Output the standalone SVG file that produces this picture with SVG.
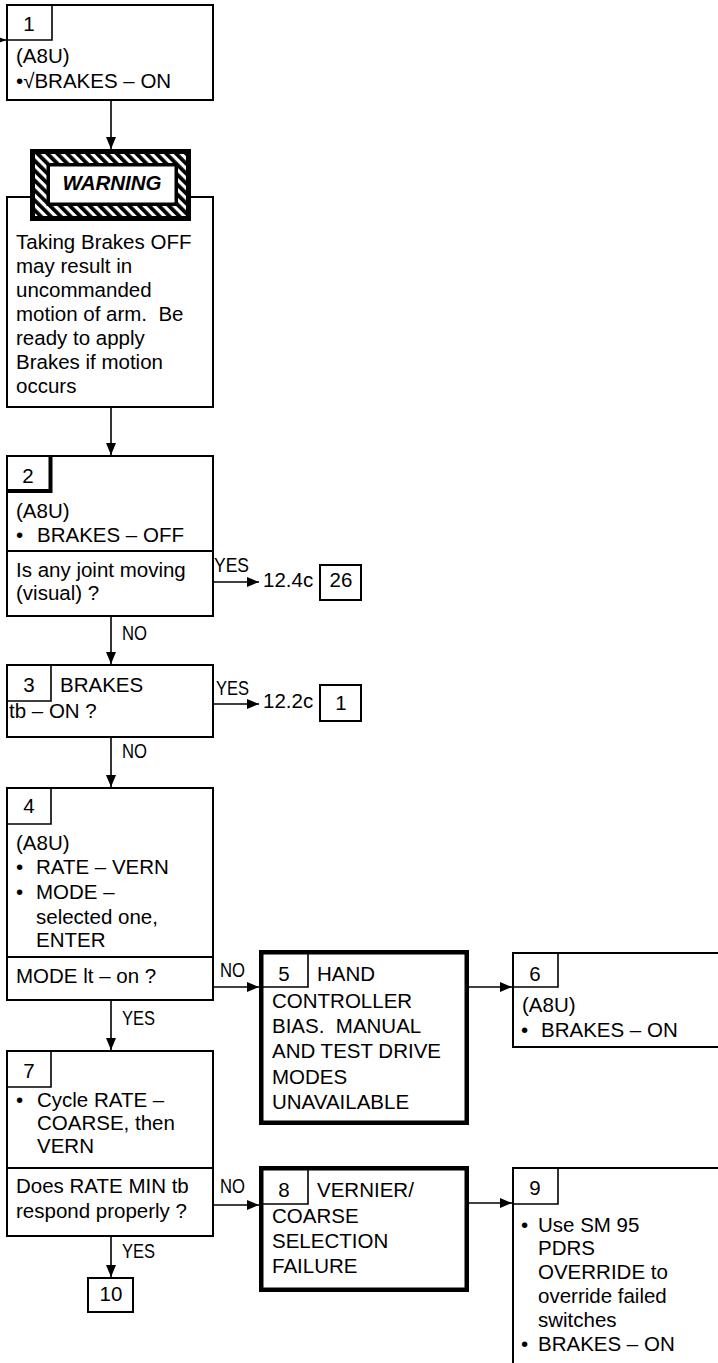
<svg xmlns="http://www.w3.org/2000/svg" width="718" height="1363" viewBox="0 0 718 1363">
<style>
text{font-family:"Liberation Sans",Arial,sans-serif;font-size:20.5px;fill:#000}
.c{text-anchor:middle}
.lbl{font-size:21px}
.box{fill:#fff;stroke:#000;stroke-width:2}
.thick{fill:#fff;stroke:#000;stroke-width:4.5}
.tab{fill:none;stroke:#000;stroke-width:1.6}
.tabb{fill:none;stroke:#000;stroke-width:4}
.div{stroke:#000;stroke-width:2}
.conn{fill:none;stroke:#000;stroke-width:1.6;marker-end:url(#ah)}
</style>
<defs>
<marker id="ah" markerUnits="userSpaceOnUse" markerWidth="12" markerHeight="10" refX="12" refY="5" orient="auto">
<path d="M0,0 L12,5 L0,10 z" fill="#000"/>
</marker>
<pattern id="hatch" patternUnits="userSpaceOnUse" width="7" height="7" patternTransform="rotate(-45)">
<rect width="7" height="7" fill="#fff"/>
<rect width="3.8" height="7" fill="#000"/>
</pattern>
</defs>
<rect width="718" height="1363" fill="#fff"/>

<g id="connectors">
<path class="conn" d="M-10,40 H6"/>
<path class="conn" d="M111,101 V149"/>
<path class="conn" d="M111,408 V455"/>
<path class="conn" d="M214,582 H259"/>
<path class="conn" d="M111,617 V664"/>
<path class="conn" d="M214,704 H259"/>
<path class="conn" d="M111,737 V787"/>
<path class="conn" d="M214,987 H259"/>
<path class="conn" d="M469,987 H512"/>
<path class="conn" d="M111,1001 V1050"/>
<path class="conn" d="M214,1205 H259"/>
<path class="conn" d="M469,1203 H512"/>
<path class="conn" d="M111,1237 V1277"/>
<text class="lbl" x="214" y="572" textLength="35" lengthAdjust="spacingAndGlyphs">YES</text>
<text class="lbl" x="216" y="695" textLength="33" lengthAdjust="spacingAndGlyphs">YES</text>
<text class="lbl" x="122" y="640" textLength="25" lengthAdjust="spacingAndGlyphs">NO</text>
<text class="lbl" x="122" y="758" textLength="25" lengthAdjust="spacingAndGlyphs">NO</text>
<text class="lbl" x="220" y="977" textLength="25" lengthAdjust="spacingAndGlyphs">NO</text>
<text class="lbl" x="122" y="1025" textLength="33" lengthAdjust="spacingAndGlyphs">YES</text>
<text class="lbl" x="220" y="1193" textLength="25" lengthAdjust="spacingAndGlyphs">NO</text>
<text class="lbl" x="122" y="1258" textLength="33" lengthAdjust="spacingAndGlyphs">YES</text>
</g>

<g id="box1">
<rect class="box" x="7" y="5" width="206" height="95"/>
<path class="tab" d="M52,5 V40 H7"/>
<text class="c" x="29" y="31">1</text>
<text x="16" y="63">(A8U)</text>
<text x="16" y="88">•√BRAKES – ON</text>
</g>

<g id="warning-box">
<rect class="box" x="7" y="197" width="206" height="210"/>
<text x="16" y="249">Taking Brakes OFF</text>
<text x="16" y="273">may result in</text>
<text x="16" y="297">uncommanded</text>
<text x="16" y="321" xml:space="preserve">motion of arm.  Be</text>
<text x="16" y="345">ready to apply</text>
<text x="16" y="369">Brakes if motion</text>
<text x="16" y="393">occurs</text>
</g>

<g id="warning-badge">
<rect x="30" y="149" width="161" height="72" fill="#000"/>
<rect x="35" y="154" width="151" height="62" fill="url(#hatch)"/>
<rect x="46.5" y="163" width="131.5" height="43" fill="#000"/>
<rect x="50" y="166.5" width="124.5" height="36" fill="#fff"/>
<text class="c" x="112" y="190" font-weight="bold" font-style="italic">WARNING</text>
</g>

<g id="box2">
<rect class="box" x="7" y="456" width="206" height="160"/>
<path class="tabb" d="M50.5,456 V491 H7"/>
<text class="c" x="28" y="483">2</text>
<text x="16" y="518">(A8U)</text>
<text x="16" y="542">•</text><text x="37" y="542">BRAKES – OFF</text>
<line class="div" x1="7" y1="551" x2="213" y2="551"/>
<text x="16" y="577">Is any joint moving</text>
<text x="16" y="600">(visual) ?</text>
</g>

<g id="ref-26">
<text x="263" y="587">12.4c</text>
<rect class="box" x="320" y="565" width="41" height="35"/>
<text class="c" x="341" y="587">26</text>
</g>

<g id="box3">
<rect class="box" x="7" y="665" width="206" height="72"/>
<path class="tab" d="M51,665 V701 H7"/>
<text class="c" x="29" y="692">3</text>
<text x="60" y="692">BRAKES</text>
<text x="9" y="718">tb – ON ?</text>
</g>

<g id="ref-1">
<text x="263" y="708">12.2c</text>
<rect class="box" x="320" y="685" width="41" height="36"/>
<text class="c" x="341" y="710">1</text>
</g>

<g id="box4">
<rect class="box" x="7" y="788" width="206" height="212"/>
<path class="tab" d="M51,788 V824 H7"/>
<text class="c" x="29" y="813">4</text>
<text x="16" y="850">(A8U)</text>
<text x="16" y="874">•</text><text x="36" y="874">RATE – VERN</text>
<text x="16" y="899">•</text><text x="36" y="899">MODE –</text>
<text x="36" y="924">selected one,</text>
<text x="36" y="947">ENTER</text>
<line class="div" x1="7" y1="957" x2="213" y2="957"/>
<text x="16" y="983">MODE lt – on ?</text>
</g>

<g id="box5">
<rect class="thick" x="261.25" y="952.25" width="205.5" height="170.5"/>
<path class="tab" d="M308,952 V987 H261"/>
<text class="c" x="284" y="981">5</text>
<text x="317" y="981">HAND</text>
<text x="272" y="1008">CONTROLLER</text>
<text x="272" y="1033" xml:space="preserve">BIAS.  MANUAL</text>
<text x="272" y="1058">AND TEST DRIVE</text>
<text x="272" y="1084">MODES</text>
<text x="272" y="1109">UNAVAILABLE</text>
</g>

<g id="box6">
<rect class="box" x="513" y="953" width="230" height="94"/>
<path class="tab" d="M558,953 V987 H513"/>
<text class="c" x="535" y="981">6</text>
<text x="522" y="1012">(A8U)</text>
<text x="521" y="1037">•</text><text x="541" y="1037">BRAKES – ON</text>
</g>

<g id="box7">
<rect class="box" x="7" y="1051" width="206" height="185"/>
<path class="tab" d="M51,1051 V1087 H7"/>
<text class="c" x="29" y="1078">7</text>
<text x="16" y="1107">•</text><text x="37" y="1107">Cycle RATE –</text>
<text x="37" y="1130">COARSE, then</text>
<text x="37" y="1153">VERN</text>
<line class="div" x1="7" y1="1168" x2="213" y2="1168"/>
<text x="16" y="1193">Does RATE MIN tb</text>
<text x="16" y="1218">respond properly ?</text>
</g>

<g id="box8">
<rect class="thick" x="261.25" y="1168.25" width="205.5" height="121.5"/>
<path class="tab" d="M308,1168 V1204 H261"/>
<text class="c" x="284" y="1197">8</text>
<text x="317" y="1197">VERNIER/</text>
<text x="272" y="1223">COARSE</text>
<text x="272" y="1248">SELECTION</text>
<text x="272" y="1273">FAILURE</text>
</g>

<g id="box9">
<path class="box" d="M743,1168 H513 V1375"/>
<path class="tab" d="M558,1168 V1204 H513"/>
<text class="c" x="535" y="1195">9</text>
<text x="521" y="1232">•</text><text x="538" y="1232">Use SM 95</text>
<text x="538" y="1255">PDRS</text>
<text x="538" y="1279">OVERRIDE to</text>
<text x="538" y="1303">override failed</text>
<text x="538" y="1327">switches</text>
<text x="521" y="1351">•</text><text x="538" y="1351">BRAKES – ON</text>
</g>

<g id="box10">
<rect class="box" x="88" y="1278" width="45" height="34"/>
<text class="c" x="111" y="1301">10</text>
</g>
</svg>
